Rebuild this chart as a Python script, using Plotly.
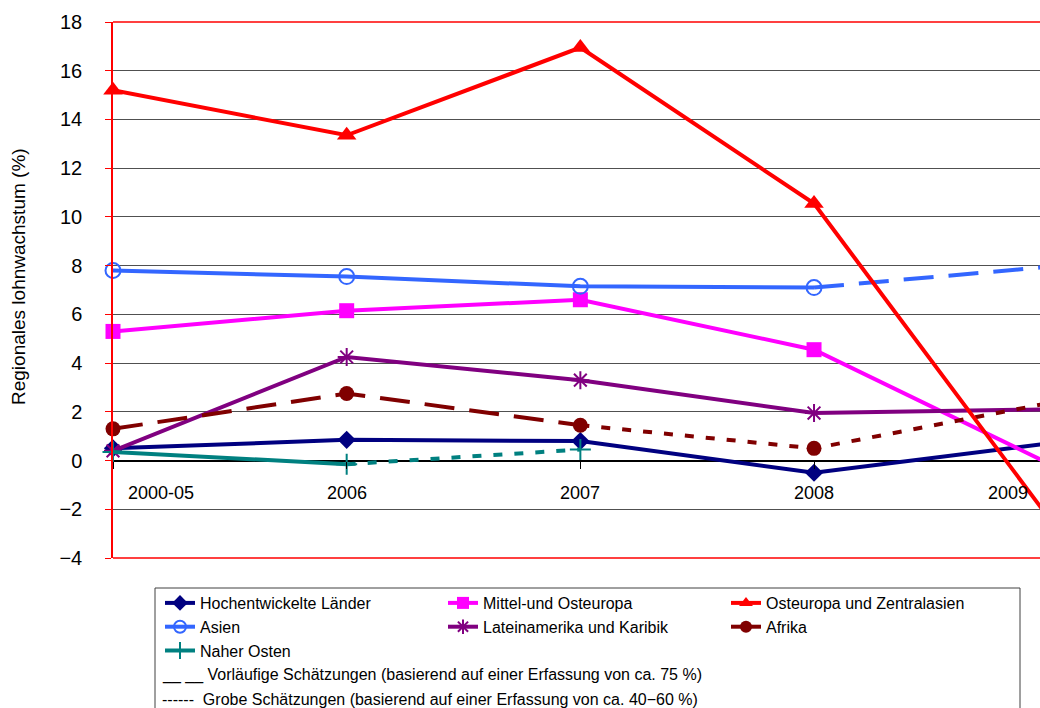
import plotly.graph_objects as go

categories = ["2000-05", "2006", "2007", "2008", "2009"]
x_pos = [0, 1, 2, 3, 4]

hochentwickelt = [0.5, 0.85, 0.8, -0.5, 0.7]
mittel_osteuropa = [5.3, 6.15, 6.6, 4.55, -0.1]
osteuropa_zentralasien = [15.2, 13.35, 16.95, 10.55, -2.3]
asien = [7.8, 7.55, 7.15, 7.1, 7.95]
lateinamerika = [0.4, 4.25, 3.3, 1.95, 2.1]
afrika = [1.3, 2.75, 1.45, 0.5, 2.35]
naher_osten = [0.35, -0.15, 0.45, None, None]

y_ticks = [-4, -2, 0, 2, 4, 6, 8, 10, 12, 14, 16, 18]

FONT = "Liberation Sans, Arial, sans-serif"
LONG = "30px,15px"
SHORT = "9px,12px"

series = [
    # name, values, color, symbol, marker size, segment styles
    ("Hochentwickelte Länder", hochentwickelt, "#000080", "diamond", 14,
     ["solid", "solid", "solid", "solid"]),
    ("Mittel-und Osteuropa", mittel_osteuropa, "#FF00FF", "square", 15,
     ["solid", "solid", "solid", "solid"]),
    ("Asien", asien, "#3366FF", "circle-open", 15,
     ["solid", "solid", "solid", LONG]),
    ("Lateinamerika und Karibik", lateinamerika, "#800080", "asterisk-open", 15,
     ["solid", "solid", "solid", "solid"]),
    ("Afrika", afrika, "#800000", "circle", 15,
     [LONG, LONG, SHORT, SHORT]),
    ("Naher Osten", naher_osten, "#008080", "cross-thin-open", 15,
     ["solid", SHORT]),
    ("Osteuropa und Zentralasien", osteuropa_zentralasien, "#FF0000", "triangle-up", 17,
     ["solid", "solid", "solid", "solid"]),
]
legend_order = ["Hochentwickelte Länder", "Mittel-und Osteuropa", "Osteuropa und Zentralasien",
                "Asien", "Lateinamerika und Karibik", "Afrika", "Naher Osten"]

fig = go.Figure()


def marker_style(color, symbol, size):
    open_sym = symbol.endswith("open")
    return dict(symbol=symbol, size=size, color=color,
                line=dict(color=color, width=2 if open_sym else 0))


for name, vals, color, symbol, msize, styles in series:
    i = 0
    n = len(styles)
    while i < n:
        j = i
        while j + 1 < n and styles[j + 1] == styles[i]:
            j += 1
        fig.add_trace(go.Scatter(
            x=x_pos[i:j + 2], y=vals[i:j + 2], mode="lines",
            line=dict(color=color, width=4, dash=styles[i]),
            showlegend=False, hoverinfo="skip"))
        i = j + 1
    fig.add_trace(go.Scatter(
        x=x_pos[:4], y=vals[:4], mode="markers",
        marker=marker_style(color, symbol, msize),
        cliponaxis=False, showlegend=False, name=name))

lookup = {s[0]: s for s in series}
for name in legend_order:
    _, vals, color, symbol, msize, styles = lookup[name]
    fig.add_trace(go.Scatter(
        x=[None], y=[None], mode="lines+markers", name=name,
        line=dict(color=color, width=4),
        marker=marker_style(color, symbol, min(msize, 12))))

ann = []
for k, lab in enumerate(categories):
    if k == 0:
        ann.append(dict(x=x_pos[k], y=0, xref="x", yref="y", text=lab, showarrow=False,
                        xanchor="left", yanchor="middle", xshift=13, yshift=-32))
    elif k == len(categories) - 1:
        ann.append(dict(x=1, y=0, xref="x domain", yref="y", text=lab, showarrow=False,
                        xanchor="right", yanchor="middle", xshift=-10, yshift=-32))
    else:
        ann.append(dict(x=x_pos[k], y=0, xref="x", yref="y", text=lab, showarrow=False,
                        xanchor="center", yanchor="middle", yshift=-32))
for a in ann:
    a["font"] = dict(family=FONT, size=18, color="black")

notes = ["__ __ Vorläufige Schätzungen (basierend auf einer Erfassung von ca. 75 %)",
         "------  Grobe Schätzungen (basierend auf einer Erfassung von ca. 40−60 %)"]
for k, t in enumerate(notes):
    ann.append(dict(x=(160 - 113) / 927, y=(558 - (675 + 24 * k)) / 536, xref="paper", yref="paper",
                    text=t, showarrow=False, xanchor="left", yanchor="middle",
                    font=dict(family=FONT, size=16, color="black")))

# y-axis title
ann.append(dict(x=(18 - 113) / 927, y=(558 - 277) / 536, xref="paper", yref="paper",
                text="Regionales lohnwachstum (%)",
                showarrow=False, textangle=-90, xanchor="center", yanchor="middle",
                font=dict(family=FONT, size=19, color="black")))

shapes = [
    dict(type="line", xref="paper", yref="paper", x0=0, x1=1, y0=1, y1=1,
         line=dict(color="#FF0000", width=1.5)),
    dict(type="line", xref="paper", yref="paper", x0=0, x1=1, y0=0, y1=0,
         line=dict(color="#FF0000", width=1.5)),
    dict(type="rect", xref="paper", yref="paper",
         x0=(155 - 113) / 927, x1=(1020 - 113) / 927,
         y0=(558 - 730) / 536, y1=(558 - 588) / 536,
         line=dict(color="#404040", width=1), fillcolor="rgba(0,0,0,0)"),
]

fig.update_layout(
    width=1040, height=708,
    margin=dict(l=113, r=0, t=22, b=150),
    paper_bgcolor="white", plot_bgcolor="white",
    font=dict(family=FONT, size=16, color="black"),
    xaxis=dict(range=[0, 3.967], anchor="free", position=4 / 22,
               tickvals=x_pos, ticks="outside", ticklen=7, tickcolor="black",
               showticklabels=False, showgrid=False, showline=False, zeroline=False),
    yaxis=dict(range=[-4, 18], tickvals=y_ticks, showgrid=True, gridcolor="#505050", gridwidth=1,
               zeroline=True, zerolinecolor="black", zerolinewidth=1.5,
               showline=True, linecolor="#FF0000", linewidth=1.5,
               ticks="outside", ticklen=6, tickcolor="#FF0000",
               tickfont=dict(family=FONT, size=20, color="black"), ticklabelstandoff=19),
    legend=dict(orientation="h", x=(160 - 113) / 927, y=(558 - 586) / 536,
                xanchor="left", yanchor="top", entrywidth=238, entrywidthmode="pixels",
                font=dict(family=FONT, size=16, color="black"),
                bgcolor="rgba(0,0,0,0)", tracegroupgap=0),
    annotations=ann, shapes=shapes,
)

fig.write_html("out.html")
